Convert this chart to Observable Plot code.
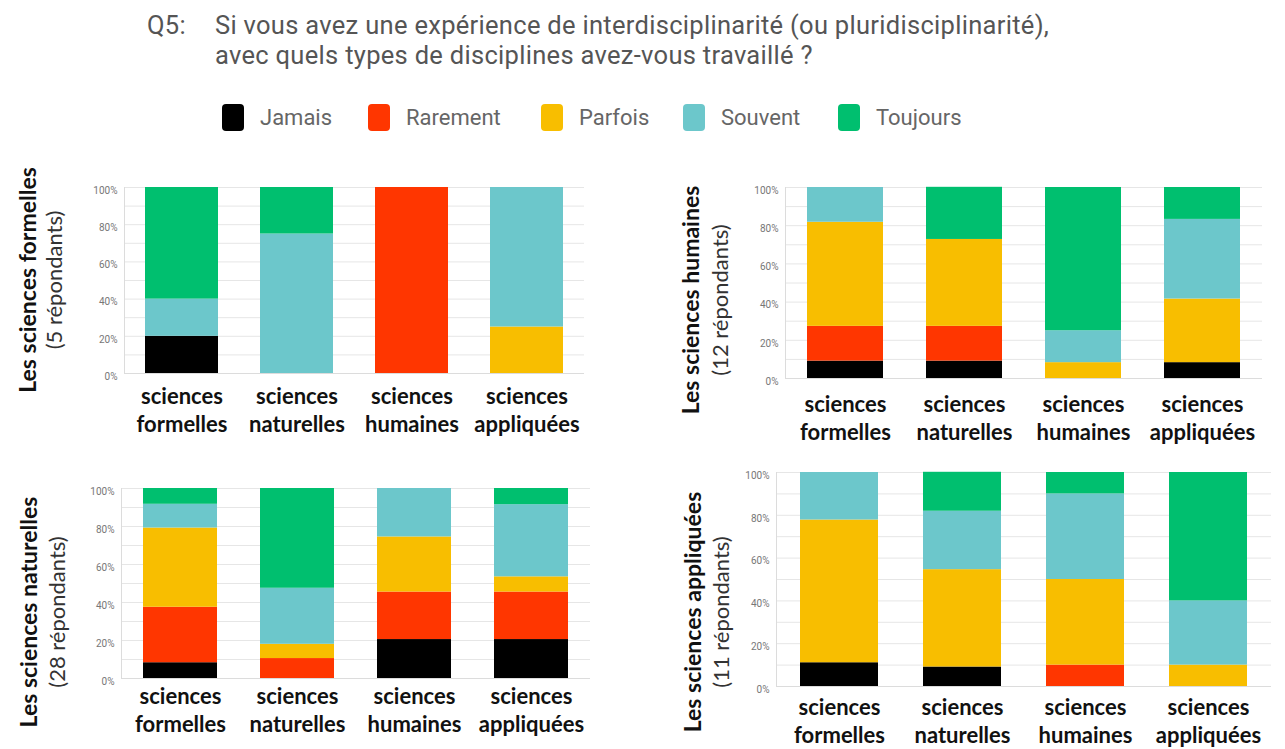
<!DOCTYPE html>
<html><head><meta charset="utf-8">
<script src="https://cdn.jsdelivr.net/npm/d3@7"></script>
<script src="https://cdn.jsdelivr.net/npm/@observablehq/plot@0.6"></script>
<style>
body{margin:0;background:#fff;}
#root{position:relative;width:1285px;height:749px;overflow:hidden;font-family:Roboto,sans-serif;}
.abs{position:absolute;}
.title{color:#555;font-size:25.5px;letter-spacing:0.3px;line-height:30px;white-space:nowrap;}
.leg{position:absolute;display:flex;align-items:center;color:#666;font-size:22px;white-space:nowrap;}
.sw{width:22px;height:27px;border-radius:4px;margin-right:16px;}
.ylab{position:absolute;white-space:nowrap;transform:translate(-50%,-50%) rotate(-90deg);font-family:Lato,sans-serif;color:#111;}
.ylab.b{font-weight:bold;font-size:23px;}
.ylab.r{font-size:22px;color:#333;}
svg{position:absolute;}
</style></head><body><div id="root"></div>
<script>
// ---- data ----
const question = "Q5:";
const titleLines = ["Si vous avez une expérience de interdisciplinarité (ou pluridisciplinarité),", "avec quels types de disciplines avez-vous travaillé ?"];
const disciplines = ["sciences formelles", "sciences naturelles", "sciences humaines", "sciences appliquées"];
const levels = ["Jamais", "Rarement", "Parfois", "Souvent", "Toujours"];
const levelColors = ["#000000", "#ff3600", "#f8be00", "#6cc7cb", "#00bf6f"];
const panelNames = ["Les sciences formelles", "Les sciences humaines", "Les sciences naturelles", "Les sciences appliquées"];
const panelCounts = ["(5 répondants)", "(12 répondants)", "(28 répondants)", "(11 répondants)"];
const yTicks = [0, 20, 40, 60, 80, 100];
const gridTicks = [10, 20, 30, 40, 50, 60, 70, 80, 90, 100];
// rows = levels (Jamais..Toujours), columns = disciplines (percent)
const formellesValues = [
  [20, 0, 0, 0],
  [0, 0, 100, 0],
  [0, 0, 0, 25],
  [20, 75, 0, 75],
  [60, 25, 0, 0]
];
const humainesValues = [
  [9.1, 9.1, 0, 8.3],
  [18.2, 18.2, 0, 0],
  [54.5, 45.5, 8.3, 33.3],
  [18.2, 0, 16.7, 41.7],
  [0, 27.3, 75, 16.7]
];
const naturellesValues = [
  [8.3, 0, 20.5, 20.5],
  [29.2, 10.5, 25, 25],
  [41.7, 7.5, 29, 8],
  [12.5, 29.5, 25.5, 38],
  [8.3, 52.5, 0, 8.5]
];
const appliqueesValues = [
  [11.1, 9.1, 0, 0],
  [0, 0, 10, 0],
  [66.7, 45.5, 40, 10],
  [22.2, 27.3, 40, 30],
  [0, 18.2, 10, 60]
];
const panelValues = [formellesValues, humainesValues, naturellesValues, appliqueesValues];

// ---- layout ----
const root = document.getElementById("root");
function add(html, cls, style) {
  const d = document.createElement("div");
  d.className = cls; d.textContent = html; Object.assign(d.style, style); root.appendChild(d); return d;
}
add(question, "abs title", {left: "147px", top: "10px"});
const t = add("", "abs title", {left: "215px", top: "10px"});
t.innerHTML = titleLines.join("<br>");

const legendX = [222, 368, 541, 683, 838];
levels.forEach((l, i) => {
  const d = document.createElement("div");
  d.className = "leg";
  d.style.left = legendX[i] + "px"; d.style.top = "104px";
  d.innerHTML = `<div class="sw" style="background:${levelColors[i]}"></div><span></span>`;
  d.querySelector("span").textContent = l;
  root.appendChild(d);
});

const geo = [
  {x0: 124, x1: 584, y0: 187, y1: 373, dy: 10, bx: 27, px: 53, cy: 280},
  {x0: 785, x1: 1262, y0: 187, y1: 378, dy: 13, bx: 690, px: 719, cy: 300},
  {x0: 121, x1: 590, y0: 488, y1: 678, dy: 5, bx: 28, px: 56, cy: 612},
  {x0: 776, x1: 1271, y0: 472, y1: 686, dy: 8, bx: 692, px: 720, cy: 612}
];

geo.forEach((g, p) => {
  const rows = [];
  panelValues[p].forEach((row, li) => row.forEach((v, di) => {
    if (v > 0) rows.push({discipline: disciplines[di], level: levels[li], value: v});
  }));
  const mL = 60, mR = 12, mT = 12, mB = 70;
  const chart = Plot.plot({
    width: (g.x1 - g.x0) + mL + mR,
    height: (g.y1 - g.y0) + mT + mB,
    marginLeft: mL, marginRight: mR, marginTop: mT, marginBottom: mB,
    style: {fontFamily: "Roboto, sans-serif", background: "transparent", overflow: "visible"},
    x: {domain: disciplines, paddingInner: 0.365, paddingOuter: 0.1825, axis: null},
    y: {domain: [0, 100], axis: null},
    color: {domain: levels, range: levelColors},
    marks: [
      Plot.gridY(gridTicks, {stroke: "#e6e6e6", strokeOpacity: 1}),
      Plot.ruleY([0], {stroke: "#dcdcdc"}),
      Plot.frame({anchor: "left", stroke: "#dcdcdc"}),
      Plot.axisY(yTicks, {tickSize: 0, tickPadding: 7, tickFormat: d => d + "%", fontSize: 10, fill: "#777", dy: 3, label: null}),
      Plot.barY(rows, {x: "discipline", y: "value", fill: "level", order: levels}),
      Plot.text(disciplines, {x: d => d, text: d => d.replace(" ", "\n"), frameAnchor: "bottom", lineAnchor: "top", dy: g.dy, lineHeight: 1.3, fontSize: 22, fontWeight: "bold", fontFamily: "Lato, sans-serif", fill: "#111"})
    ]
  });
  chart.style.left = (g.x0 - mL) + "px";
  chart.style.top = (g.y0 - mT) + "px";
  root.appendChild(chart);
  add(panelNames[p], "ylab b", {left: g.bx + "px", top: g.cy + "px"});
  add(panelCounts[p], "ylab r", {left: g.px + "px", top: g.cy + "px"});
});
</script>
</body></html>
